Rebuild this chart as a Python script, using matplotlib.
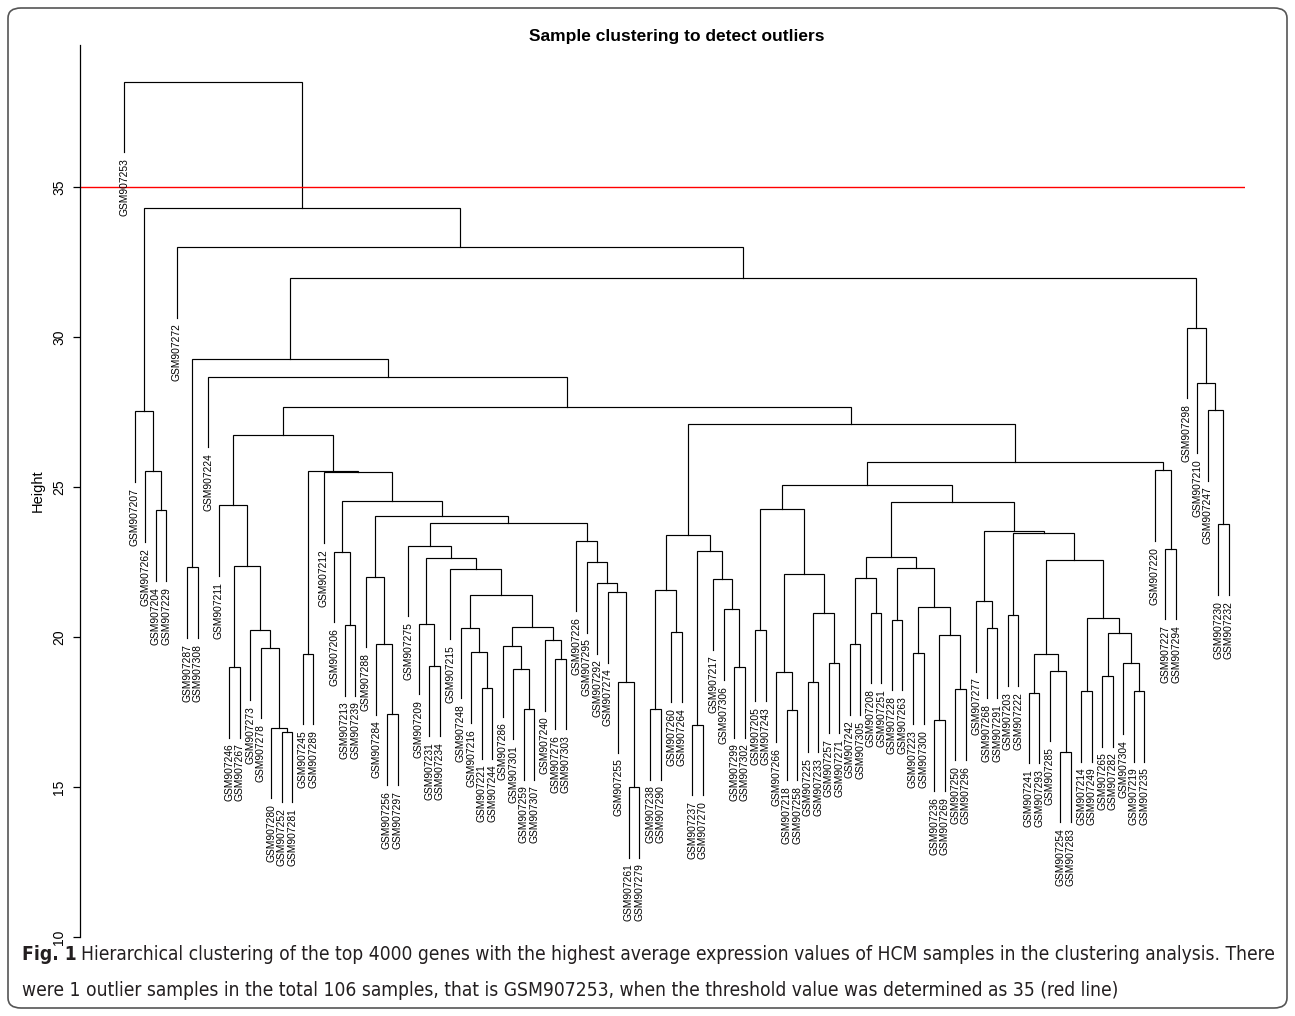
import matplotlib
matplotlib.use("Agg")
import matplotlib.pyplot as plt
from matplotlib import font_manager as fm
from matplotlib.patches import FancyBboxPatch

# leaf order as drawn, left to right (labels are "GSM907" + id)
leaf_ids = [
    "253", "207", "262", "204", "229", "272", "287", "308", "224", "211",
    "246", "267", "273", "278", "280", "252", "281", "245", "289", "212",
    "206", "213", "239", "288", "284", "256", "297", "275", "209", "231",
    "234", "215", "248", "216", "221", "244", "286", "301", "259", "307",
    "240", "276", "303", "226", "295", "292", "274", "255", "261", "279",
    "238", "290", "260", "264", "237", "270", "217", "306", "299", "302",
    "205", "243", "266", "218", "258", "225", "233", "257", "271", "242",
    "305", "208", "251", "228", "263", "223", "300", "236", "269", "250",
    "296", "277", "268", "291", "203", "222", "241", "293", "285", "254",
    "283", "214", "249", "265", "282", "304", "219", "235", "220", "227",
    "294", "298", "210", "247", "230", "232",
]

# merges (str = leaf id, int = index of an earlier merge) and their heights
merge_left = [
    "204", "262", "207", "287", "246", "252", "280", "278", "273", 4,
    "211", "245", "213", "206", "256", "284", "288", "231", "209", "221",
    "216", "248", "259", "301", "286", "276", "240", 24, 21, "215",
    18, "275", "261", "255", "274", "292", "295", "226", 31, 16,
    13, "212", 11, 10, "238", "260", 44, "237", "299", "306",
    "217", 47, 46, "205", "218", "266", "225", "257", 56, 55,
    53, "242", "208", 61, "228", "223", "236", "250", 66, 65,
    64, 63, "268", "277", "203", "241", "254", "285", 75, "214",
    "265", "219", "304", 80, 79, 78, 74, 73, 71, 60,
    "227", "220", 89, 52, 43, "224", 3, "230", "247", "210",
    "298", 96, "272", 2, "253",
]
merge_right = [
    "229", 0, 1, "308", "267", "281", 5, 6, 7, 8,
    9, "289", "239", 12, "297", 14, 15, "234", 17, "244",
    19, 20, "307", 22, 23, "303", 25, 26, 27, 28,
    29, 30, "279", 32, 33, 34, 35, 36, 37, 38,
    39, 40, 41, 42, "290", "264", 45, "270", "302", 48,
    49, 50, 51, "243", "258", 54, "233", "271", 57, 58,
    59, "305", "251", 62, "263", "300", "269", "296", 67, 68,
    69, 70, "291", 72, "222", "293", "283", 76, 77, "249",
    "282", "235", 81, 82, 83, 84, 85, 86, 87, 88,
    "294", 90, 91, 92, 93, 94, 95, "232", 97, 98,
    99, 100, 101, 102, 103,
]
merge_height = [
    24.22, 25.53, 27.53, 22.33, 19.00, 16.84, 16.98, 19.65, 20.25, 22.37,
    24.39, 19.44, 20.40, 22.84, 17.42, 19.76, 22.01, 19.05, 20.45, 18.30,
    19.49, 20.31, 17.60, 18.94, 19.70, 19.27, 19.90, 20.35, 21.40, 22.28,
    22.65, 23.04, 15.00, 18.50, 21.50, 21.80, 22.50, 23.21, 23.80, 24.03,
    24.55, 25.49, 25.53, 26.73, 17.60, 20.17, 21.57, 17.07, 19.00, 20.93,
    21.93, 22.86, 23.39, 20.22, 17.57, 18.84, 18.51, 19.14, 20.79, 22.11,
    24.26, 19.76, 20.81, 21.96, 20.57, 19.46, 17.23, 18.26, 20.07, 21.00,
    22.31, 22.68, 20.31, 21.20, 20.72, 18.14, 16.17, 18.87, 19.42, 18.20,
    18.70, 18.20, 19.12, 20.12, 20.64, 22.57, 23.48, 23.53, 24.51, 25.07,
    22.94, 25.56, 25.85, 27.09, 27.67, 28.67, 29.27, 23.76, 27.56, 28.47,
    30.31, 31.98, 33.00, 34.29, 38.51,
]
cut_height = 35

W, H = 1295, 1016
fig = plt.figure(figsize=(W / 100, H / 100), dpi=100)
plt.rcParams["font.family"] = ["Liberation Sans", "DejaVu Sans"]

# plot area: leaf 1 at x=124px, leaf spacing ~10.52px, 30px per height unit
ax = fig.add_axes([80 / W, 79 / H, 1165 / W, 892 / H])
step = 10.52
x0 = -(124 - 80) / step
ax.set_xlim(x0, x0 + 1165 / step)
ax.set_ylim(10, 10 + 892 / 30)

hang = 0.1 * (max(merge_height) - min(merge_height))
leaf_x = {lid: i for i, lid in enumerate(leaf_ids)}
node_x = []

def child(c, h):
    if isinstance(c, str):
        return leaf_x[c], h - hang, c
    return node_x[c], merge_height[c], None

for k in range(len(merge_height)):
    h = merge_height[k]
    xl, yl, ll = child(merge_left[k], h)
    xr, yr, lr = child(merge_right[k], h)
    ax.plot([xl, xl, xr, xr], [yl, h, h, yr], color="black", lw=0.85,
            solid_joinstyle="miter")
    node_x.append((xl + xr) / 2)
    for x, y, lab in ((xl, yl, ll), (xr, yr, lr)):
        if lab is not None:
            ax.text(x, y - 0.2, "GSM907" + lab, rotation=90, ha="center",
                    va="top", fontsize=7.4)

ax.axhline(cut_height, color="red", lw=1)

for s in ("top", "right", "bottom"):
    ax.spines[s].set_visible(False)
ax.spines["left"].set_linewidth(0.9)
ax.set_xticks([])
ax.set_yticks([10, 15, 20, 25, 30, 35])
ax.set_yticklabels(["10", "15", "20", "25", "30", "35"], rotation=90, va="center")
ax.tick_params(axis="y", length=5, width=0.9, pad=5, labelsize=10)
ax.set_ylabel("Height", fontsize=10.5, labelpad=5)

fig.text(677 / W, 1 - 36 / H, "Sample clustering to detect outliers",
         ha="center", va="center", fontsize=12.5, weight="bold")

# rounded frame around the whole figure
fig.patches.append(FancyBboxPatch((8 / W, 8 / H), 1279 / W, 1000 / H,
                                  boxstyle="round,pad=0,rounding_size=0.01",
                                  transform=fig.transFigure, fill=False,
                                  ec="#555555", lw=1.2))

# caption: a regular-weight condensed sans if there is one
def weight_of(f):
    if isinstance(f.weight, int):
        return f.weight
    return {"light": 300, "bold": 700, "medium": 500}.get(str(f.weight), 400)

def pick_font(lo, hi):
    for f in fm.fontManager.ttflist:
        narrow = ("Narrow" in f.name or "Condensed" in f.name
                  or str(f.stretch) in ("condensed", "semi-condensed"))
        if narrow and f.style == "normal" and lo <= weight_of(f) <= hi:
            return fm.FontProperties(fname=f.fname)
    return None

cap_reg = pick_font(400, 500)
cap_bold = pick_font(600, 800)
if cap_reg is None:
    cap_reg = fm.FontProperties(family=["Liberation Sans", "DejaVu Sans"])
if cap_bold is None:
    cap_bold = fm.FontProperties(family=["Liberation Sans", "DejaVu Sans"],
                                 weight="bold")

line1 = ("Hierarchical clustering of the top 4000 genes with the highest average "
         "expression values of HCM samples in the clustering analysis. There")
line2 = ("were 1 outlier samples in the total 106 samples, that is GSM907253, "
         "when the threshold value was determined as 35 (red line)")
renderer = fig.canvas.get_renderer()
size = 13
bold = fig.text(22 / W, 1 - 955 / H, "Fig. 1", fontproperties=cap_bold,
                va="center", ha="left", color="#231f20")
bold.set_fontsize(size)
t1 = fig.text(0, 1 - 955 / H, line1, fontproperties=cap_reg,
              va="center", ha="left", color="#231f20")
t1.set_fontsize(size)
bw = bold.get_window_extent(renderer).width
w1 = t1.get_window_extent(renderer).width + bw + 5
size = min(size * (1275 - 22) / w1, 14.2)
bold.set_fontsize(size)
t1.set_fontsize(size)
bw = bold.get_window_extent(renderer).width
t1.set_x((22 + bw + 0.35 * size) / W)
t2 = fig.text(22 / W, 1 - 990 / H, line2, fontproperties=cap_reg,
              va="center", ha="left", color="#231f20")
t2.set_fontsize(size)

fig.savefig("out.png", dpi=100)
